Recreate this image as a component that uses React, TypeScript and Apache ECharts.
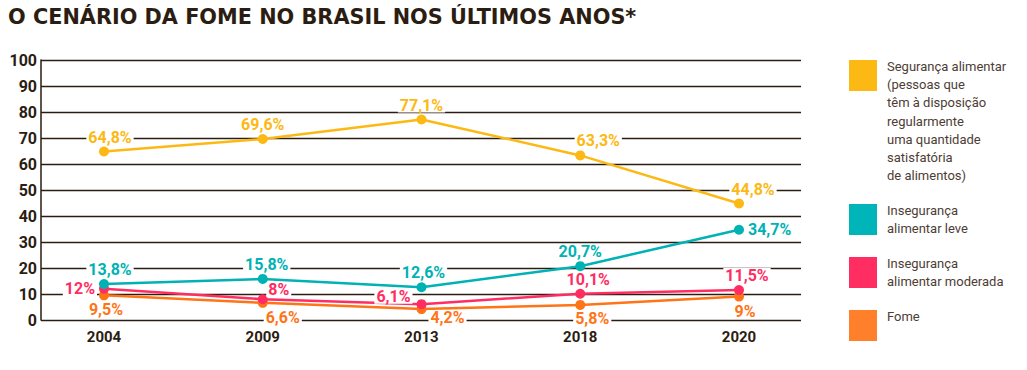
import React, { useEffect, useRef } from "react";
import * as echarts from "echarts";

const years = ["2004", "2009", "2013", "2018", "2020"];
const seguranca = [64.8, 69.6, 77.1, 63.3, 44.8];
const insegLeve = [13.8, 15.8, 12.6, 20.7, 34.7];
const insegModerada = [12, 8, 6.1, 10.1, 11.5];
const fome = [9.5, 6.6, 4.2, 5.8, 9];
const yTicks = { min: 0, max: 100, interval: 10 };

const titleText = "O CENÁRIO DA FOME NO BRASIL NOS ÚLTIMOS ANOS*";
const legendItems = [
  { name: "Segurança alimentar", lines: ["Segurança alimentar", "(pessoas que", "têm à disposição", "regularmente", "uma quantidade", "satisfatória", "de alimentos)"] },
  { name: "Insegurança alimentar leve", lines: ["Insegurança", "alimentar leve"] },
  { name: "Insegurança alimentar moderada", lines: ["Insegurança", "alimentar moderada"] },
  { name: "Fome", lines: ["Fome"] },
];

const DARK = "#2b1d12";
const COLORS = ["#FDB913", "#00B2B4", "#FF2D62", "#FF7416"];
const LEGEND_COLORS = ["#FDB913", "#00B5BA", "#FF2D62", "#FF7F2A"];

// label placements (style only)
const placements = [
  [{ p: "top", o: [6, 0] }, { p: "top", o: [0, 0] }, { p: "top", o: [0, 0] }, { p: "top", o: [18, 0] }, { p: "top", o: [14, 0] }],
  [{ p: "top", o: [6, 0] }, { p: "top", o: [4, 0] }, { p: "top", o: [2, 0] }, { p: "top", o: [0, 0] }, { p: "right", o: [0, 0] }],
  [{ p: "left", o: [0, 0] }, { p: "top", o: [16, 5] }, { p: "left", o: [-2, -8] }, { p: "top", o: [8, 0] }, { p: "top", o: [8, 0] }],
  [{ p: "bottom", o: [2, 0] }, { p: "bottom", o: [20, 0] }, { p: "bottom", o: [26, -6] }, { p: "bottom", o: [12, -1] }, { p: "bottom", o: [6, 0] }],
];

const fmt = (v: number) => String(v).replace(".", ",") + "%";

export default function App() {
  const ref = useRef<HTMLDivElement>(null);
  useEffect(() => {
    document.body.style.margin = "0";
    const chart = echarts.init(ref.current!, null, { renderer: "svg" });
    const seriesData = [seguranca, insegLeve, insegModerada, fome];
    const names = legendItems.map((l) => l.name);

    const series = seriesData.map((arr, si) => ({
      type: "line",
      name: names[si],
      xAxisIndex: 1,
      yAxisIndex: 1,
      data: arr.map((v, i) => ({
        value: v,
        label: { position: placements[si][i].p, offset: placements[si][i].o },
      })),
      symbol: "circle",
      symbolSize: 10,
      lineStyle: { color: COLORS[si], width: 2.5 },
      itemStyle: { color: COLORS[si] },
      label: {
        show: true,
        formatter: (p: any) => fmt(p.value),
        color: COLORS[si],
        fontFamily: "Roboto",
        fontWeight: "bold",
        fontSize: 16,
        lineHeight: 15,
        distance: 2,
        backgroundColor: "#ffffff",
        padding: [0, 2],
      },
      z: 10 - si,
    }));

    const graphics: any[] = [
      {
        type: "text",
        x: 8,
        y: 17,
        style: {
          text: titleText,
          fill: DARK,
          font: "bold 20.8px 'DejaVu Sans'",
          verticalAlign: "middle",
        },
      },
    ];
    const legendTops = [60, 204, 257, 310];
    legendItems.forEach((item, k) => {
      const top = legendTops[k];
      graphics.push({
        type: "rect",
        shape: { x: 849, y: top, width: 28, height: 31 },
        style: { fill: LEGEND_COLORS[k] },
      });
      item.lines.forEach((ln, j) => {
        graphics.push({
          type: "text",
          x: 887,
          y: top + 6.5 + j * 18.2,
          style: {
            text: ln,
            fill: "#4d3d35",
            font: "13px Roboto",
            verticalAlign: "middle",
          },
        });
      });
    });

    chart.setOption({
      animation: false,
      grid: [
        { left: 41, top: 60, width: 760, height: 260 },
        { left: 104, top: 60, width: 635, height: 260 },
      ],
      xAxis: [
        { gridIndex: 0, type: "value", show: false, min: 0, max: 1 },
        {
          gridIndex: 1,
          type: "category",
          data: years,
          boundaryGap: false,
          axisLine: { show: false },
          axisTick: { show: false },
          axisLabel: { color: DARK, fontFamily: "Roboto", fontWeight: "bold", fontSize: 15, margin: 9 },
        },
      ],
      yAxis: [
        {
          gridIndex: 0,
          type: "value",
          min: yTicks.min,
          max: yTicks.max,
          interval: yTicks.interval,
          axisLine: { show: true, lineStyle: { color: DARK, width: 1.5 } },
          axisTick: { show: false },
          splitLine: { show: true, lineStyle: { color: DARK, width: 1.3 } },
          axisLabel: { color: DARK, fontFamily: "Roboto", fontWeight: "bold", fontSize: 16, margin: 4, padding: [0, 0, 4, 0] },
        },
        { gridIndex: 1, type: "value", min: yTicks.min, max: yTicks.max, show: false, splitLine: { show: false } },
      ],
      series,
      graphic: graphics,
    });
    return () => chart.dispose();
  }, []);
  return <div ref={ref} style={{ width: 1027, height: 370 }} />;
}
